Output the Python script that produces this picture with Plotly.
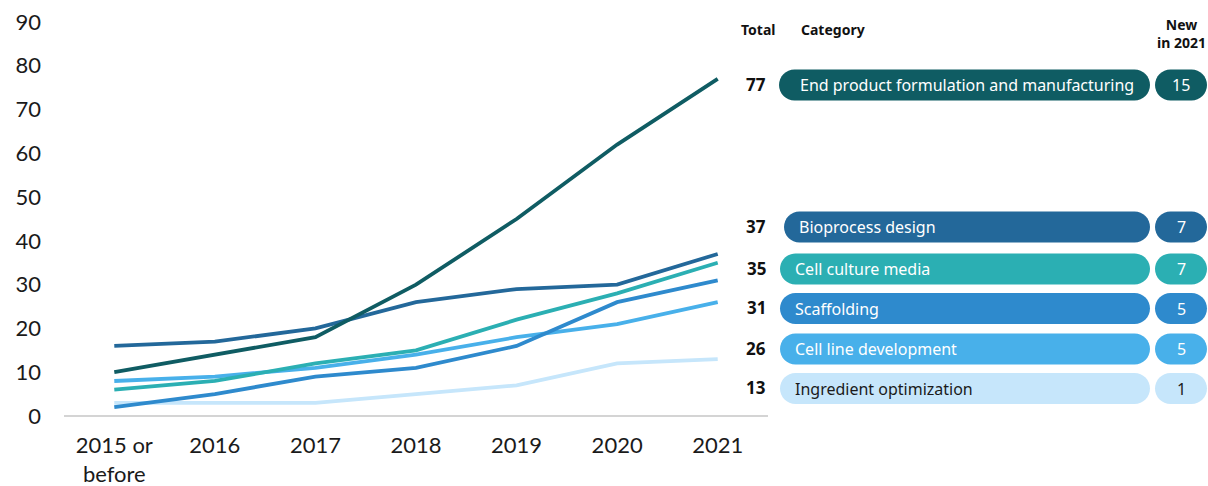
import plotly.graph_objects as go

years = ["2015 or<br>before", "2016", "2017", "2018", "2019", "2020", "2021"]

categories = ["End product formulation and manufacturing", "Bioprocess design",
              "Cell culture media", "Scaffolding", "Cell line development",
              "Ingredient optimization"]
end_product = [10, 14, 18, 30, 45, 62, 77]
bioprocess = [16, 17, 20, 26, 29, 30, 37]
cell_culture = [6, 8, 12, 15, 22, 28, 35]
scaffolding = [2, 5, 9, 11, 16, 26, 31]
cell_line = [8, 9, 11, 14, 18, 21, 26]
ingredient = [3, 3, 3, 5, 7, 12, 13]
totals = [77, 37, 35, 31, 26, 13]
new_2021 = [15, 7, 7, 5, 5, 1]

colors = ["#0f5c63", "#23689a", "#2bafb3", "#2e8acd", "#48b0ea", "#c6e6fb"]
text_colors = ["white", "white", "white", "white", "white", "#1a1a1a"]

series = [end_product, bioprocess, cell_culture, scaffolding, cell_line, ingredient]

# plot area in pixels (used to place the side panel)
W, H = 1208, 486
L, R, T, B = 64, 768, 22, 416

def px_x(p):
    return (p - L) / (R - L)

def px_y(p):
    return (B - p) / (B - T)

def pill(xc, yc, w, h, color):
    r = h / 2
    k = 0.5523 * r
    a, b = -w / 2, w / 2
    path = (f"M {a+r},{-r} L {b-r},{-r} "
            f"C {b-r+k},{-r} {b},{-k} {b},0 "
            f"C {b},{k} {b-r+k},{r} {b-r},{r} "
            f"L {a+r},{r} "
            f"C {a+r-k},{r} {a},{k} {a},0 "
            f"C {a},{-k} {a+r-k},{-r} {a+r},{-r} Z")
    return dict(type="path", path=path, xref="paper", yref="paper",
                xsizemode="pixel", ysizemode="pixel",
                xanchor=px_x(xc), yanchor=px_y(yc),
                fillcolor=color, line=dict(width=0), layer="above")

fig = go.Figure()
# draw lightest first so darker lines sit on top
for name, vals, col in reversed(list(zip(categories, series, colors))):
    fig.add_trace(go.Scatter(x=years, y=vals, mode="lines", name=name,
                             line=dict(color=col, width=3.8), showlegend=False))

# side panel rows
row_y = [85, 227, 269, 308.5, 349, 388.5]
pill_left = [779, 784, 780, 780, 780, 780]
pill_right = 1150
new_c, new_w = 1181, 52
ph = 31

shapes = []
ann = []
for i, cat in enumerate(categories):
    w = pill_right - pill_left[i]
    shapes.append(pill(pill_left[i] + w / 2, row_y[i], w, ph, colors[i]))
    shapes.append(pill(new_c, row_y[i], new_w, ph, colors[i]))
    ann.append(dict(x=px_x(pill_left[i] + (19 if i == 0 else 13)), y=px_y(row_y[i]),
                    xref="paper", yref="paper", text=cat, showarrow=False,
                    xanchor="left", yanchor="middle",
                    font=dict(family="Noto Sans", size=16, color=text_colors[i])))
    ann.append(dict(x=px_x(new_c), y=px_y(row_y[i]), xref="paper", yref="paper",
                    text=str(new_2021[i]), showarrow=False, xanchor="center",
                    yanchor="middle",
                    font=dict(family="Noto Sans", size=16, color=text_colors[i])))
    ann.append(dict(x=px_x(768), y=px_y(row_y[i] - 1), xref="paper", yref="paper",
                    text=f"<b>{totals[i]}</b>", showarrow=False, xanchor="right",
                    yanchor="middle",
                    font=dict(family="Noto Sans", size=17, color="#111111")))

hdr = dict(family="Noto Sans", size=14, color="#111111")
ann.append(dict(x=px_x(758), y=px_y(30), xref="paper", yref="paper", text="<b>Total</b>",
                showarrow=False, xanchor="center", yanchor="middle", font=hdr))
ann.append(dict(x=px_x(799), y=px_y(30), xref="paper", yref="paper", text="<b>Category</b>",
                showarrow=False, xanchor="left", yanchor="middle", font=hdr))
ann.append(dict(x=px_x(1181), y=px_y(34), xref="paper", yref="paper",
                text="<b>New</b><br><b>in 2021</b>", showarrow=False, xanchor="center",
                yanchor="middle", font=hdr))

fig.update_layout(
    width=W, height=H,
    margin=dict(l=L, r=W - R, t=T, b=H - B, autoexpand=False),
    plot_bgcolor="white", paper_bgcolor="white",
    font=dict(family="Lato", size=22, color="#1a1a1a"),
    shapes=shapes, annotations=ann,
    xaxis=dict(showgrid=False, showline=False, ticks="", tickfont=dict(size=22),
               range=[-0.5, 6.5], ticklabelstandoff=14, automargin=False),
    yaxis=dict(range=[0, 90], dtick=10, showgrid=False, showline=False,
               zeroline=True, zerolinecolor="#d4d4d4", zerolinewidth=2,
               ticklabelstandoff=22, tickfont=dict(size=22), automargin=False),
)

# drop the browser's default body margin so the figure sits at the page corner
fig.write_html("out.html", config={"displayModeBar": False},
               post_script="document.body.style.margin='0';")
